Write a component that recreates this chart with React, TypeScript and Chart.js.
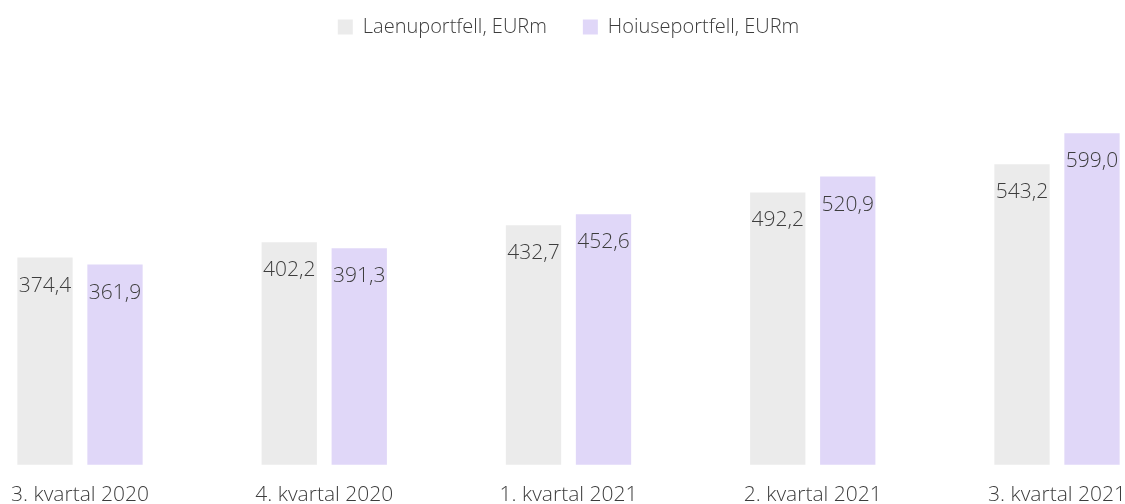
import React, { useEffect, useRef } from 'react';
import { Chart, registerables } from 'chart.js';

Chart.register(...registerables);

const categories = ['3. kvartal 2020', '4. kvartal 2020', '1. kvartal 2021', '2. kvartal 2021', '3. kvartal 2021'];
const loanPortfolio = [374.4, 402.2, 432.7, 492.2, 543.2];
const depositPortfolio = [361.9, 391.3, 452.6, 520.9, 599.0];
const seriesNames = ['Laenuportfell, EURm', 'Hoiuseportfell, EURm'];

const FONT = "'Open Sans', 'DejaVu Sans', sans-serif";
const TEXT = '#3d3d3d';

const valueLabels = {
  id: 'valueLabels',
  afterDatasetsDraw(chart: any) {
    const ctx = chart.ctx;
    ctx.save();
    ctx.font = `300 21px ${FONT}`;
    ctx.fillStyle = TEXT;
    ctx.textAlign = 'center';
    ctx.textBaseline = 'middle';
    chart.data.datasets.forEach((ds: any, i: number) => {
      chart.getDatasetMeta(i).data.forEach((el: any, j: number) => {
        const v = ds.data[j] as number;
        ctx.fillText(v.toFixed(1).replace('.', ','), el.x, el.y + 28);
      });
    });
    ctx.restore();
  },
};

export default function App() {
  const ref = useRef<HTMLCanvasElement | null>(null);
  useEffect(() => {
    if (!ref.current) return;
    const chart = new Chart(ref.current, {
      type: 'bar',
      data: {
        labels: categories,
        datasets: [
          {
            label: seriesNames[0],
            data: loanPortfolio,
            backgroundColor: '#ebebeb',
            categoryPercentage: 0.5732,
            barPercentage: 0.79,
            clip: false as any,
          },
          {
            label: seriesNames[1],
            data: depositPortfolio,
            backgroundColor: '#e0d7f8',
            categoryPercentage: 0.5732,
            barPercentage: 0.79,
            clip: false as any,
          },
        ],
      },
      options: {
        responsive: false,
        animation: false,
        devicePixelRatio: 1,
        layout: { padding: { top: -19, left: 80, right: 68, bottom: 2 } },
        plugins: {
          tooltip: { enabled: false },
          legend: {
            position: 'top',
            align: 'center',
            labels: {
              boxWidth: 15,
              boxHeight: 15,
              padding: 36,
              color: TEXT,
              font: { family: FONT, size: 20, weight: '300' as any },
            },
          },
        },
        scales: {
          x: {
            offset: false,
            grid: {
              display: true,
              drawOnChartArea: false,
              drawTicks: true,
              tickLength: 18,
              color: 'rgba(0,0,0,0)',
              offset: false,
            },
            border: { display: false },
            afterFit(scale: any) {
              scale.paddingLeft = 0;
              scale.paddingRight = 0;
            },
            ticks: {
              color: TEXT,
              padding: 0,
              maxRotation: 0,
              autoSkip: false,
              font: { family: FONT, size: 21, weight: '300' as any },
            },
          },
          y: {
            display: false,
            min: 0,
            max: 755,
          },
        },
      },
      plugins: [valueLabels],
    });
    return () => chart.destroy();
  }, []);
  return (
    <div style={{ position: 'absolute', left: 0, top: 0, width: 1125, height: 510 }}>
      <canvas ref={ref} width={1125} height={510} style={{ display: 'block' }} />
    </div>
  );
}
